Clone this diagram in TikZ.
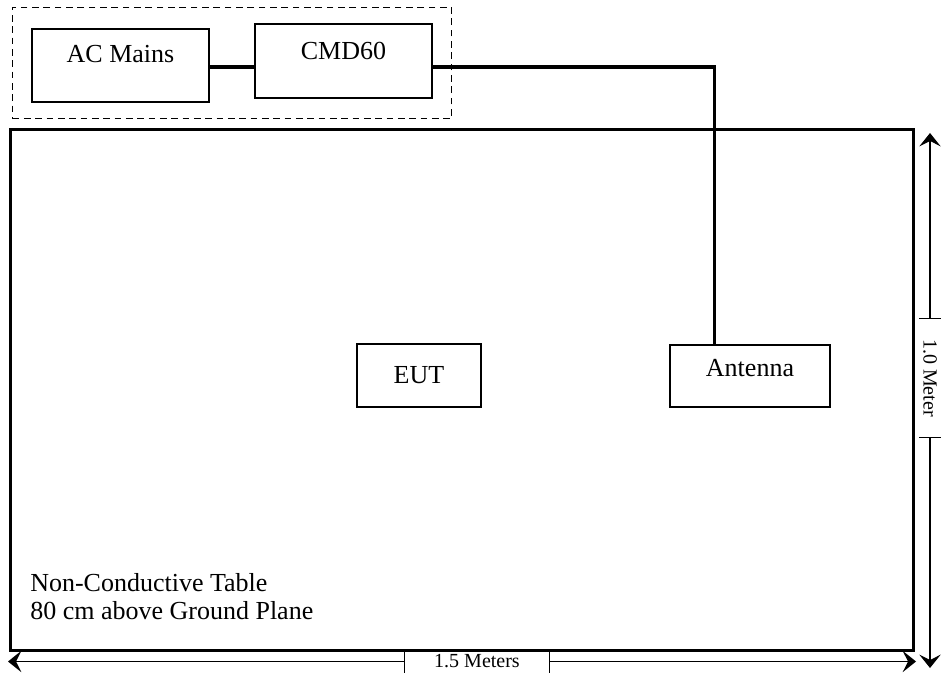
\documentclass[tikz,border=0pt]{standalone}
\usepackage{fontspec}
\setmainfont{Liberation Serif}
\usetikzlibrary{arrows.meta,positioning,fit}

\begin{document}
\begin{tikzpicture}[x=0.75pt,y=-0.75pt, every node/.style={font=\fontsize{19.5}{21}\selectfont},
  unit/.style={draw,line width=1.2pt,minimum width=132.75pt,inner sep=0pt},
  frame/.style={draw,line width=1pt,dash pattern=on 5pt off 3.5pt,inner xsep=14pt,inner ysep=12pt},
  bench/.style={draw,line width=2.25pt,minimum width=677.25pt,minimum height=390pt,inner sep=0pt},
  cable/.style={line width=2.4pt},
  dimlbl/.style={inner sep=0pt,font=\fontsize{15}{17}\selectfont},
  tick/.style={line width=0.9pt},
  dimar/.style={line width=1pt,-{Stealth[length=10pt,width=16pt,inset=4pt]}}]

\useasboundingbox (0,0) rectangle (941,673);

\node[unit,minimum height=54.75pt,text height=9pt,text depth=12.75pt] (acm) at (120.5,65.5) {AC Mains};
\node[unit,minimum height=55.5pt,text height=9pt,text depth=10.5pt] (cmd) at (343.5,61) {CMD60};
\node[frame,fit=(acm)(cmd)] (psu) {};
\node[bench] (table) at (461.5,390) {};
\node[unit,minimum width=93pt,minimum height=47.25pt] (eut) at (419,375.5) {EUT};
\node[unit,minimum width=120pt,minimum height=46.5pt,text height=6pt,text depth=6pt] (ant) at (750,376) {Antenna};
\node[anchor=north west,align=left,inner sep=0pt] (note) at (30,573) {Non-Conductive Table\\80 cm above Ground Plane};

\coordinate (bend) at (714.5,67);
\draw[cable] (acm.east |- bend) -- (cmd.west |- bend);
\draw[cable] (cmd.east |- bend) -- (bend) -- (bend |- ant.north);

\node[dimlbl,minimum width=108pt,minimum height=17pt] (wlbl) at (477,661.5) {1.5 Meters};
\node[dimlbl,rotate=-90,minimum width=88.5pt,minimum height=15.75pt] (hlbl) at (930,378) {1.0 Meter};
\coordinate (wl) at (8,662); \coordinate (wr) at (916,662);
\coordinate (ht) at (930,133); \coordinate (hb) at (930,668);
\draw[dimar] (wlbl.west) -- (wlbl.west -| wl);
\draw[dimar] (wlbl.east) -- (wlbl.east -| wr);
\draw[dimar] (hlbl.west) -- (ht);
\draw[dimar] (hlbl.east) -- (hb);
\foreach \n in {wlbl,hlbl}
  \draw[tick] (\n.north west) -- (\n.south west) (\n.north east) -- (\n.south east);
\end{tikzpicture}
\end{document}
